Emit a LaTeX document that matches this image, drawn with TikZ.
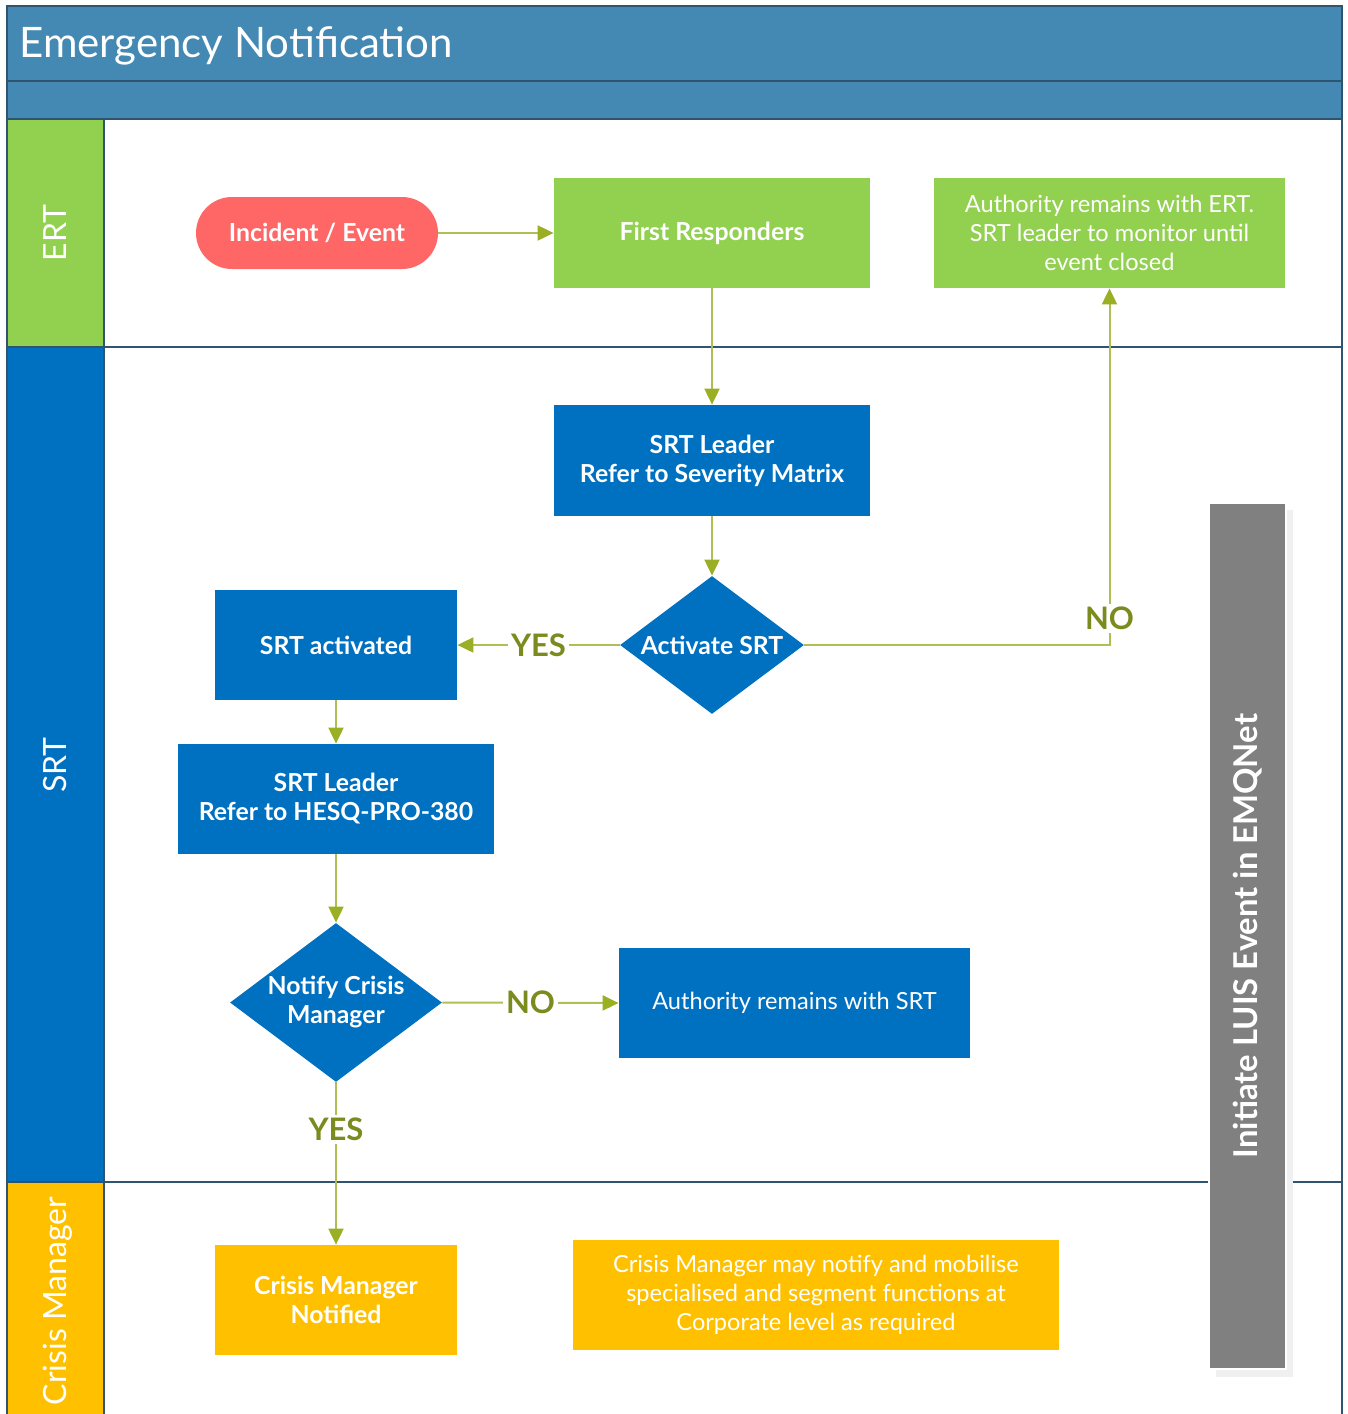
\documentclass[tikz,border=0pt]{standalone}
\usepackage{fontspec}
\setmainfont{Lato}
\usepackage{tikz}
\usetikzlibrary{arrows.meta, shapes.geometric}

\definecolor{bandblue}{HTML}{4389B4}
\definecolor{framedark}{HTML}{2E5470}
\definecolor{ertgreen}{HTML}{92D050}
\definecolor{srtblue}{HTML}{0070C0}
\definecolor{cmyellow}{HTML}{FFC000}
\definecolor{pillred}{HTML}{FF6666}
\definecolor{flowline}{HTML}{AFBE55}
\definecolor{tipolive}{HTML}{9BAF24}
\definecolor{labelolive}{HTML}{7B8B1E}
\definecolor{luisgrey}{HTML}{808080}
\definecolor{shadowgrey}{HTML}{F0F0F0}

\tikzset{
  lanebox/.style={draw=framedark, line width=1pt},
  lanelabel/.style={rotate=90, anchor=base, text=white, font=\fontsize{16}{18}\selectfont},
  procbox/.style={rectangle, inner sep=0pt, text=white, align=center,
    font=\bfseries\fontsize{12.4}{14.5}\selectfont},
  notebox/.style={procbox, font=\fontsize{11.8}{14.5}\selectfont},
  decision/.style={diamond, inner sep=0pt, fill=srtblue},
  decisiontext/.style={procbox},
  flow/.style={draw=flowline, line width=1pt, -{Triangle[length=8pt, width=7.5pt, color=tipolive]}},
  answer/.style={fill=white, inner sep=1.5pt, text=labelolive,
    font=\bfseries\fontsize{15.5}{18}\selectfont}
}

\begin{document}
\begin{tikzpicture}[x=0.5pt, y=-0.5pt]
    \useasboundingbox (0,0) rectangle (1348,1414);

    % title bands
    \draw[lanebox, fill=bandblue] (7,6) rectangle (1342,81);
    \draw[lanebox, fill=bandblue] (7,81) rectangle (1342,119);
    \node[anchor=base west, text=white, inner sep=0pt, font=\fontsize{21}{24}\selectfont]
      (title) at (19,57) {Emergency Notification};

    % lanes
    \draw[lanebox, fill=ertgreen] (7,119) rectangle (104,347);
    \draw[lanebox, fill=srtblue] (7,347) rectangle (104,1182);
    \draw[lanebox, fill=cmyellow] (7,1182) rectangle (104,1420);
    \draw[lanebox] (104,347) -- (1342,347);
    \draw[lanebox] (104,1182) -- (1342,1182);
    \draw[lanebox] (1342,119) -- (1342,1420);
    \node[lanelabel] (ertlane) at (66,233) {ERT};
    \node[lanelabel] (srtlane) at (66,765) {SRT};
    \node[lanelabel] (cmlane) at (66,1301) {Crisis Manager};

    % side bar
    \fill[shadowgrey] (1216,510) rectangle (1293,1377);
    \node[rectangle, draw=white, line width=1pt, fill=luisgrey, rotate=90,
      minimum width=433pt, minimum height=38.5pt, inner sep=0pt, text=white,
      font=\bfseries\fontsize{16.4}{18}\selectfont] (luis) at (1247.5,936) {Initiate LUIS Event in EMQNet};

    % ERT lane
    \node[procbox, fill=pillred, rounded corners=18pt, minimum width=121pt, minimum height=36pt]
      (incident) at (317,233) {Incident / Event};
    \node[procbox, fill=ertgreen, minimum width=158pt, minimum height=55pt]
      (responders) at (712,233) {First Responders};
    \node[notebox, fill=ertgreen, minimum width=175.5pt, minimum height=55pt]
      (ertauth) at (1109.5,233) {Authority remains with ERT.\\SRT leader to monitor until\\event closed};

    % SRT lane
    \node[procbox, fill=srtblue, minimum width=158pt, minimum height=55.5pt]
      (leadmatrix) at (712,460.5) {SRT Leader\\Refer to Severity Matrix};
    \node[decision, minimum width=92pt, minimum height=69pt] (activate) at (712,645) {};
    \node[decisiontext] (activatetext) at (activate) {Activate SRT};
    \node[procbox, fill=srtblue, minimum width=121pt, minimum height=55pt]
      (activated) at (336,645) {SRT activated};
    \node[procbox, fill=srtblue, minimum width=158pt, minimum height=55pt]
      (leadhesq) at (336,799) {SRT Leader\\Refer to HESQ-PRO-380};
    \node[decision, minimum width=106pt, minimum height=79.5pt] (notify) at (336,1002.5) {};
    \node[decisiontext] (notifytext) at (notify) {Notify Crisis\\Manager};
    \node[notebox, fill=srtblue, minimum width=175.5pt, minimum height=55pt]
      (srtauth) at (794.5,1003) {Authority remains with SRT};

    % Crisis Manager lane
    \node[procbox, fill=cmyellow, minimum width=121pt, minimum height=55pt]
      (notified) at (336,1300) {Crisis Manager\\Notified};
    \node[notebox, fill=cmyellow, minimum width=243pt, minimum height=55pt]
      (mobilise) at (816,1295) {Crisis Manager may notify and mobilise\\specialised and segment functions at\\Corporate level as required};

    % connectors
    \draw[flow] (incident) -- (responders);
    \draw[flow] (responders) -- (leadmatrix);
    \draw[flow] (leadmatrix) -- (activate);
    \draw[flow] (activate) -- node[answer] {YES} (activated);
    \draw[flow] (activate.east) -| node[answer, pos=0.537] {NO} (ertauth.south);
    \draw[flow] (activated) -- (leadhesq);
    \draw[flow] (leadhesq) -- (notify);
    \draw[flow] (notify.east) -- node[answer] {NO} (srtauth.west);
    \draw[flow] (notify.south) -- node[answer, pos=0.29] {YES} (notified.north);
\end{tikzpicture}
\end{document}
